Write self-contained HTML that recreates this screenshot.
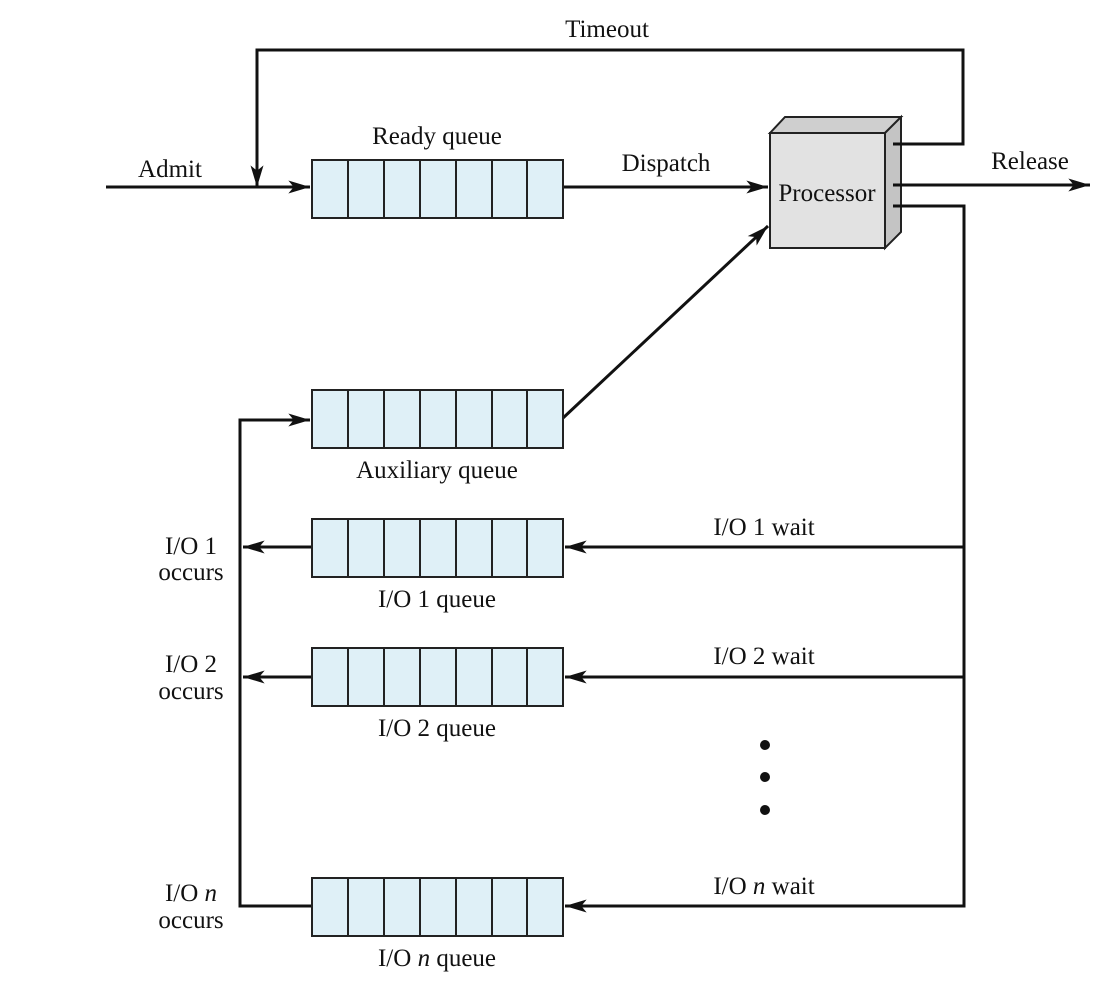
<!DOCTYPE html>
<html><head><style>body{margin:0;background:#fff}</style></head><body>
<svg width="1120" height="992" xmlns="http://www.w3.org/2000/svg" font-family="Liberation Serif, serif" font-size="25" fill="#111">
<defs>
<marker id="b" viewBox="0 0 20 12" refX="20" refY="6" markerWidth="22" markerHeight="13" orient="auto" markerUnits="userSpaceOnUse"><path d="M0,0 L20,6 L0,12 L5,6 z" fill="#111"/></marker>
<g id="q"><rect x="312" y="0" width="251" height="58" fill="#dff0f7" stroke="#222" stroke-width="2"/>
<path d="M348,0v58M384,0v58M420,0v58M456,0v58M492,0v58M527,0v58" stroke="#222" stroke-width="2"/></g>
</defs>
<g stroke="#222" stroke-width="2">
<path d="M770,133L785,117H901L885,133z" fill="#cfcfcf"/>
<path d="M885,133L901,117V232L885,248z" fill="#c4c4c4"/>
<rect x="770" y="133" width="115" height="115" fill="#e2e2e2"/>
</g>
<g stroke="#111" stroke-width="3" fill="none">
<path d="M106,187H310" marker-end="url(#b)"/>
<path d="M563,187H768" marker-end="url(#b)"/>
<path d="M893,144H963V50H257V187" marker-end="url(#b)"/>
<path d="M893,185H1090" marker-end="url(#b)"/>
<path d="M893,206H964V906H565" />
<path d="M964,547H565" marker-end="url(#b)"/>
<path d="M964,677H565" marker-end="url(#b)"/>
<path d="M964,906H565" marker-end="url(#b)"/>
<path d="M563,418L768,226" marker-end="url(#b)"/>
<path d="M312,906H240V420H310" marker-end="url(#b)"/>
<path d="M312,547H243" marker-end="url(#b)"/>
<path d="M312,677H243" marker-end="url(#b)"/>
</g>
<use href="#q" y="160"/><use href="#q" y="390"/><use href="#q" y="519"/><use href="#q" y="648"/><use href="#q" y="878"/>
<text x="827" y="201" text-anchor="middle">Processor</text>
<text x="607" y="37" text-anchor="middle">Timeout</text>
<text x="437" y="144" text-anchor="middle">Ready queue</text>
<text x="170" y="177" text-anchor="middle">Admit</text>
<text x="666" y="171" text-anchor="middle">Dispatch</text>
<text x="1030" y="169" text-anchor="middle">Release</text>
<text x="437" y="478" text-anchor="middle">Auxiliary queue</text>
<text x="437" y="607" text-anchor="middle">I/O 1 queue</text>
<text x="437" y="736" text-anchor="middle">I/O 2 queue</text>
<text x="437" y="966" text-anchor="middle">I/O <tspan font-style="italic">n</tspan> queue</text>
<text x="764" y="535" text-anchor="middle">I/O 1 wait</text>
<text x="764" y="664" text-anchor="middle">I/O 2 wait</text>
<text x="764" y="894" text-anchor="middle">I/O <tspan font-style="italic">n</tspan> wait</text>
<g text-anchor="middle">
<text x="191" y="554">I/O 1</text><text x="191" y="580">occurs</text>
<text x="191" y="672">I/O 2</text><text x="191" y="699">occurs</text>
<text x="191" y="901">I/O <tspan font-style="italic">n</tspan></text><text x="191" y="928">occurs</text>
</g>
<circle cx="765" cy="745" r="5"/><circle cx="765" cy="777" r="5"/><circle cx="765" cy="810" r="5"/>
</svg>
</body></html>
